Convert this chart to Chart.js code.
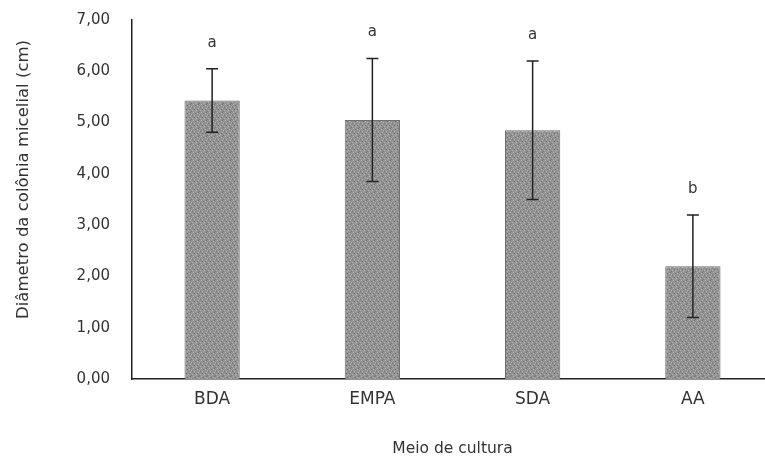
<!DOCTYPE html>
<html>
<head>
<meta charset="utf-8">
<script src="https://cdn.jsdelivr.net/npm/chart.js@4.4.0/dist/chart.umd.min.js"></script>
<style>
  html, body { margin: 0; padding: 0; background: #fff; overflow: hidden; }
  #wrap { width: 765px; height: 461px; overflow: hidden; }
  #box { width: 780px; height: 461px; }
</style>
</head>
<body>
<div id="wrap"><div id="box"><canvas id="myChart"></canvas></div></div>
<script>
const categories = ["BDA", "EMPA", "SDA", "AA"];
const means = [5.43, 5.05, 4.85, 2.2];
const errors = [0.62, 1.2, 1.35, 1.0];
const letters = ["a", "a", "a", "b"];
const yTitle = "Diâmetro da colônia micelial (cm)";

const FONT = "'DejaVu Sans', sans-serif";

// speckled gray fill like the scanned bars
function speckle() {
  const c = document.createElement("canvas");
  c.width = 8;
  c.height = 8;
  const g = c.getContext("2d");
  g.fillStyle = "#929292";
  g.fillRect(0, 0, 8, 8);
  const light = [[1, 0], [5, 1], [2, 3], [6, 4], [0, 6], [4, 6], [7, 2], [3, 7]];
  const dark = [[3, 1], [0, 3], [5, 5], [7, 7], [2, 5], [6, 0]];
  g.fillStyle = "#b2b2b2";
  light.forEach(([x, y]) => g.fillRect(x, y, 1, 1));
  g.fillStyle = "#747474";
  dark.forEach(([x, y]) => g.fillRect(x, y, 1, 1));
  return g.createPattern(c, "repeat");
}

const extras = {
  id: "extras",
  afterDatasetsDraw(chart) {
    const { ctx, scales, chartArea } = chart;
    const meta = chart.getDatasetMeta(0);
    ctx.save();
    ctx.strokeStyle = "#222";
    ctx.lineWidth = 1.5;
    ctx.fillStyle = "#333";
    ctx.font = "15px " + FONT;
    ctx.textAlign = "center";
    ctx.textBaseline = "middle";
    meta.data.forEach((bar, i) => {
      const x = bar.x;
      const top = scales.y.getPixelForValue(means[i] + errors[i]);
      const bot = scales.y.getPixelForValue(means[i] - errors[i]);
      ctx.beginPath();
      ctx.moveTo(x, top);
      ctx.lineTo(x, bot);
      ctx.moveTo(x - 6, top);
      ctx.lineTo(x + 6, top);
      ctx.moveTo(x - 6, bot);
      ctx.lineTo(x + 6, bot);
      ctx.stroke();
      ctx.fillText(letters[i], x, top - 26);
    });
    // y axis title, sits a bit above the middle of the axis in the original
    ctx.translate(24, (chartArea.top + chartArea.bottom) / 2 - 20);
    ctx.rotate(-Math.PI / 2);
    ctx.font = "16.5px " + FONT;
    ctx.fillText(yTitle, 0, 0);
    ctx.restore();
  },
};

const chart1 = document.getElementById("myChart");
new Chart(chart1, {
  type: "bar",
  data: {
    labels: categories,
    datasets: [
      {
        label: "Diâmetro",
        data: means,
        backgroundColor: speckle(),
        borderColor: "#707070",
        borderWidth: 1,
        categoryPercentage: 1,
        barPercentage: 0.345,
      },
    ],
  },
  options: {
    responsive: true,
    maintainAspectRatio: false,
    animation: false,
    layout: { padding: { left: 0, right: 7, top: 20, bottom: 0 } },
    plugins: {
      legend: { display: false },
      tooltip: { enabled: false },
    },
    scales: {
      x: {
        grid: { display: false, drawTicks: false },
        border: { display: true, color: "#222", width: 1.5 },
        ticks: {
          color: "#333",
          padding: 10,
          font: { family: FONT, size: 17 },
        },
        title: {
          display: true,
          text: "Meio de cultura",
          color: "#333",
          padding: { top: 0, bottom: 3 },
          font: { family: FONT, size: 15.5 },
        },
        afterFit: (scale) => {
          scale.height = 82;
          scale.paddingLeft = 0;
          scale.paddingRight = 0;
        },
      },
      y: {
        min: 0,
        max: 7,
        grid: { display: false, drawTicks: false },
        border: { display: true, color: "#222", width: 1.5 },
        ticks: {
          stepSize: 1,
          color: "#333",
          padding: 22,
          font: { family: FONT, size: 15 },
          callback: function (value) {
            return value.toFixed(2).replace(".", ",");
          },
        },
        afterFit: (scale) => {
          scale.width = 132;
          scale.paddingTop = 0;
          scale.paddingBottom = 0;
        },
      },
    },
  },
  plugins: [extras],
});
</script>
</body>
</html>
